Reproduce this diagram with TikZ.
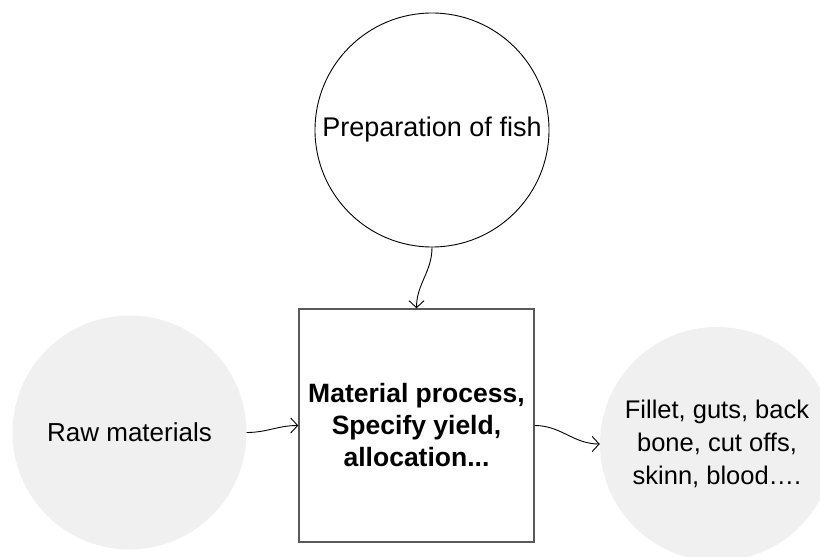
\documentclass[tikz,border=0pt]{standalone}
\usepackage{fontspec}
\setmainfont{Liberation Sans}
\usetikzlibrary{arrows.meta}

\tikzset{
    flow/.style={line width=0.9pt, -{Straight Barb[length=7pt, width=15pt]}},
    grayball/.style={circle, fill=black!6, minimum size=234pt, inner sep=0pt, align=center},
}

\begin{document}
\begin{tikzpicture}[x=1pt, y=-1pt]
            \useasboundingbox (0,0) rectangle (820,557);

            % Define vertices
            \node[circle, draw, line width=0.9pt, minimum size=234pt, inner sep=0pt,
                  font=\fontsize{27}{32}\selectfont] (prep) at (432,130) {Preparation of fish};
            \node[draw=black!65, line width=1.4pt, minimum width=235pt, minimum height=233pt, inner sep=0pt,
                  align=center, font=\fontsize{26.5}{32}\selectfont\bfseries] (proc) at (416.5,425.5)
                {Material process,\\ Specify yield,\\ allocation...};
            \node[grayball, font=\fontsize{26}{32}\selectfont] (raw) at (129.5,432.5) {Raw materials};
            \node[grayball, font=\fontsize{25.5}{33}\selectfont] (out) at (717,444)
                {Fillet, guts, back\\ bone, cut offs,\\ skinn, blood….};

            % Draw edges with arrows
            \draw[flow] (prep.south) to[out=-90, in=90] (proc.north);
            \draw[flow] (raw.east) to[out=0, in=180] (proc.west);
            \draw[flow] (proc.east) to[out=0, in=180] (out.west);
        \end{tikzpicture}
\end{document}
